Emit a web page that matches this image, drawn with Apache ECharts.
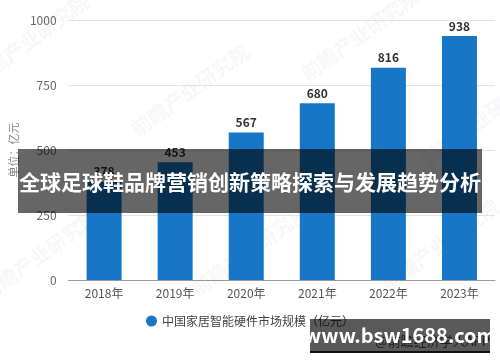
<!DOCTYPE html>
<html><head><meta charset="utf-8">
<script src="https://cdn.jsdelivr.net/npm/echarts@6/dist/echarts.min.js"></script>
<style>html,body{margin:0;padding:0;background:#fff}#c{width:500px;height:362px}</style>
</head><body><div id="c"></div>
<script>
var categories = ['2018年','2019年','2020年','2021年','2022年','2023年'];
var values = [378, 453, 567, 680, 816, 938];
var yTicks = [0, 250, 500, 750, 1000];
var seriesName = '中国家居智能硬件市场规模（亿元）';
var unitLabel = '单位：亿元';
var bannerTitle = '全球足球鞋品牌营销创新策略探索与发展趋势分析';
var siteText = 'www.bsw1688.com';
var sourceText = '@前瞻经济学人APP';
var watermark = '前瞻产业研究院';

var font = '"Noto Sans CJK SC", "Noto Sans", sans-serif';
var chart = echarts.init(document.getElementById('c'), null, {renderer: 'canvas'});

var wm = [[30,40],[190,90],[360,35],[480,120],[40,255],[250,250],[440,245]].map(function(p){
  return {type:'text', x:p[0], y:p[1], rotation: Math.PI/5, z:0, silent:true,
    style:{text:watermark, fill:'rgba(200,208,220,0.16)', font:'bold 20px '+font, align:'center', verticalAlign:'middle'}};
});

chart.setOption({
  animation: false,
  textStyle: {fontFamily: font},
  grid: {left: 61, right: 5, top: 20, bottom: 82},
  legend: {
    data: [seriesName], bottom: 30, left: 'center', icon: 'circle', itemWidth: 11, itemHeight: 11,
    itemGap: 6, textStyle: {color: '#444', fontSize: 12, fontFamily: font}
  },
  xAxis: {
    type: 'category', data: categories,
    axisLine: {lineStyle: {color: '#999'}},
    axisTick: {alignWithLabel: true, length: 5, lineStyle: {color: '#999'}},
    axisLabel: {color: '#555', fontSize: 12, margin: 7}
  },
  yAxis: {
    type: 'value', min: yTicks[0], max: yTicks[yTicks.length-1], interval: 250,
    name: unitLabel, nameLocation: 'middle', nameGap: 40, nameRotate: 90,
    nameTextStyle: {color: '#888', fontSize: 11},
    axisLine: {show: false}, axisTick: {show: false},
    axisLabel: {color: '#666', fontSize: 12, margin: 12, formatter: function(v){ return String(v); }},
    splitLine: {lineStyle: {color: '#e3e3e3'}}
  },
  series: [{
    name: seriesName, type: 'bar', data: values, barWidth: 35,
    itemStyle: {color: '#1776c6'},
    label: {show: true, position: 'top', distance: 4, color: '#333', fontWeight: 'bold', fontSize: 12}
  }],
  graphic: wm.concat([
    {type:'rect', z:100, shape:{x:18, y:149, width:464, height:64}, style:{fill:'rgba(0,0,0,0.6)'}},
    {type:'text', z:101, x:250, y:182, style:{text:bannerTitle, fill:'#fff', font:'bold 21px '+font, align:'center', verticalAlign:'middle'}},
    {type:'text', z:99, x:490, y:341, style:{text:sourceText, fill:'#555', font:'13px '+font, align:'right', verticalAlign:'middle'}},
    {type:'rect', z:100, shape:{x:310, y:319, width:180, height:33}, style:{fill:'rgba(0,0,0,0.65)'}},
    {type:'rect', z:100, shape:{x:310, y:351, width:180, height:2}, style:{fill:'#111'}},
    {type:'text', z:101, x:400, y:335, style:{text:siteText, fill:'#fff', font:'bold 20px '+font, align:'center', verticalAlign:'middle'}}
  ])
});
</script></body></html>
